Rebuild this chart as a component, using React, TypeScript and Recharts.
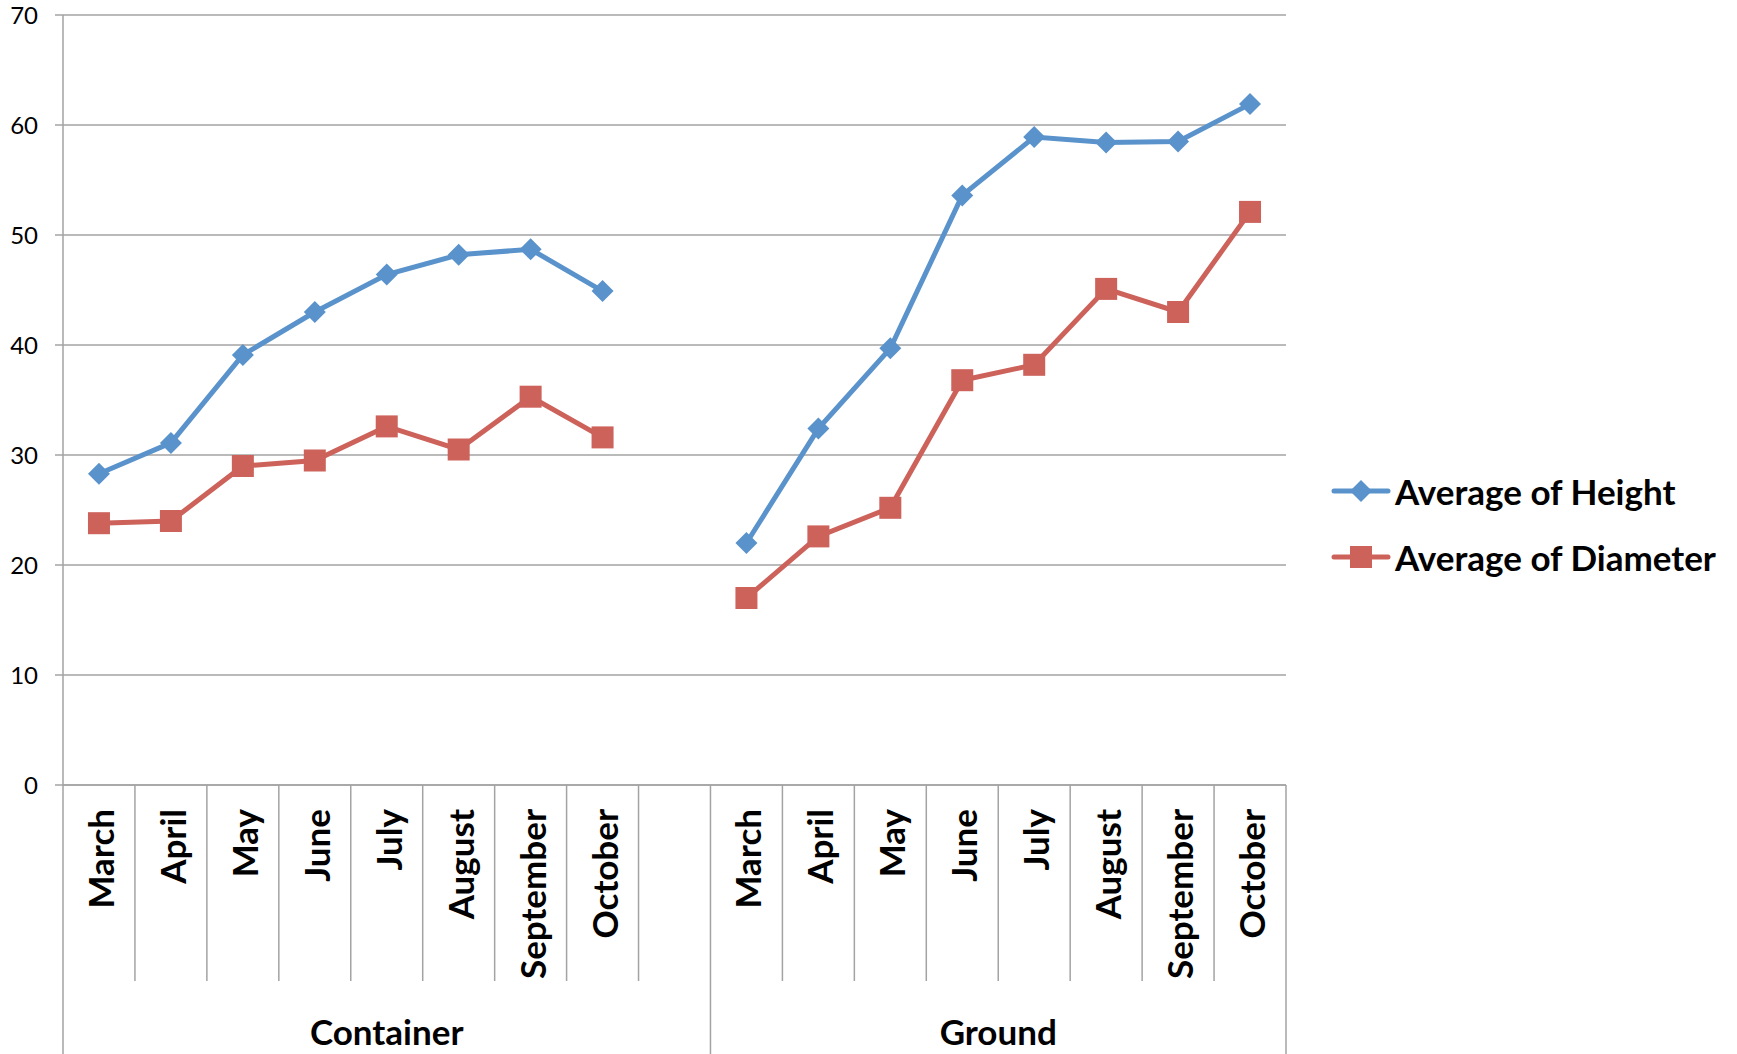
import React from "react";
import {
  LineChart, Line, XAxis, YAxis, CartesianGrid, Legend,
} from "recharts";

// category slots: Container (8 months + an empty slot), then Ground
const CATEGORIES = [
  "March", "April", "May", "June", "July", "August", "September", "October", "",
  "March", "April", "May", "June", "July", "August", "September", "October",
];

const GROUPS = [
  { name: "Container", start: 0, count: 9 },
  { name: "Ground", start: 9, count: 8 },
];

const HEIGHT_AVG = [
  28.3, 31.1, 39.1, 43.0, 46.4, 48.2, 48.7, 44.9, null,
  22.0, 32.4, 39.7, 53.6, 58.9, 58.4, 58.5, 61.9,
];

const DIAMETER_AVG = [
  23.8, 24.0, 29.0, 29.5, 32.6, 30.5, 35.3, 31.6, null,
  17.0, 22.6, 25.2, 36.8, 38.2, 45.1, 43.0, 52.1,
];

const Y_TICKS = [0, 10, 20, 30, 40, 50, 60, 70];

const BLUE = "#5A93CB";
const RED = "#CD625B";
const GRID = "#A3A3A3";
const FONT = "Lato, 'Open Sans', sans-serif";
const LABEL_SIZE = 35;

const CHART_W = 1737;
const CHART_H = 1054;
const Y_AXIS_W = 63;
const RIGHT_GAP = 451;
const X_AXIS_H = 269;
const SLOT = (CHART_W - Y_AXIS_W - RIGHT_GAP) / CATEGORIES.length;

const data = CATEGORIES.map((label, i) => ({
  idx: i,
  label,
  height: HEIGHT_AVG[i],
  diameter: DIAMETER_AVG[i],
}));

const SERIES = [
  { key: "height", name: "Average of Height", color: BLUE, marker: "diamond" },
  { key: "diameter", name: "Average of Diameter", color: RED, marker: "square" },
];

function Marker({ cx, cy, kind, color }: { cx: number; cy: number; kind: string; color: string }) {
  if (kind === "diamond") {
    const r = 11;
    return (
      <polygon
        points={`${cx},${cy - r} ${cx + r},${cy} ${cx},${cy + r} ${cx - r},${cy}`}
        fill={color}
      />
    );
  }
  const s = 22;
  return <rect x={cx - s / 2} y={cy - s / 2} width={s} height={s} fill={color} />;
}

const makeDot = (kind: string, color: string) => (props: any) => {
  const { cx, cy, index } = props;
  if (cx == null || cy == null || props.value == null) return <g key={`e-${index}`} />;
  return <Marker key={`m-${index}`} cx={cx} cy={cy} kind={kind} color={color} />;
};

// month label + slot dividers + group captions under the plot
function CategoryTick(props: any) {
  const { x, y, payload, index } = props;
  const i = payload.value as number;
  const label = CATEGORIES[i];
  const left = x - SLOT / 2;
  const group = GROUPS.find((g) => g.start === i);
  const last = i === CATEGORIES.length - 1;
  const bx = x + 15;
  const by = y + 24;
  return (
    <g key={`t-${index}`}>
      <line
        x1={left} x2={left} y1={y} y2={group ? y + X_AXIS_H : y + 196}
        stroke={GRID} strokeWidth={1.5}
      />
      {last && (
        <line
          x1={x + SLOT / 2} x2={x + SLOT / 2} y1={y} y2={y + X_AXIS_H}
          stroke={GRID} strokeWidth={1.5}
        />
      )}
      {label && (
        <text
          x={bx}
          y={by}
          transform={`rotate(-90, ${bx}, ${by})`}
          textAnchor="end"
          fontFamily={FONT}
          fontWeight={700}
          fontSize={LABEL_SIZE}
          fill="#000"
        >
          {label}
        </text>
      )}
      {group && (
        <text
          x={x + ((group.count - 1) / 2) * SLOT}
          y={y + 260}
          textAnchor="middle"
          fontFamily={FONT}
          fontWeight={700}
          fontSize={LABEL_SIZE}
          fill="#000"
        >
          {group.name}
        </text>
      )}
    </g>
  );
}

const renderLegend = () => (
  <div style={{ display: "flex", flexDirection: "column" }}>
    {SERIES.map((s) => (
      <div key={s.key} style={{ display: "flex", alignItems: "center", height: 66 }}>
        <svg width={65} height={30} style={{ display: "block" }}>
          <line x1={4} x2={58} y1={15} y2={15} stroke={s.color} strokeWidth={5} strokeLinecap="round" />
          <Marker cx={31} cy={15} kind={s.marker} color={s.color} />
        </svg>
        <span style={{ fontFamily: FONT, fontWeight: 700, fontSize: LABEL_SIZE, color: "#000", whiteSpace: "nowrap" }}>
          {s.name}
        </span>
      </div>
    ))}
  </div>
);

export default function App() {
  return (
    <div style={{ position: "absolute", left: 0, top: 0, background: "#fff" }}>
      <LineChart
        width={CHART_W}
        height={CHART_H}
        data={data}
        margin={{ top: 15, right: RIGHT_GAP, left: 0, bottom: 0 }}
      >
        <CartesianGrid vertical={false} stroke={GRID} strokeWidth={1.5} />
        <XAxis
          dataKey="idx"
          type="number"
          domain={[-0.5, CATEGORIES.length - 0.5]}
          ticks={CATEGORIES.map((_, i) => i)}
          interval={0}
          allowDataOverflow
          height={X_AXIS_H}
          tickSize={0}
          tickMargin={0}
          tickLine={false}
          axisLine={{ stroke: GRID, strokeWidth: 1.5 }}
          tick={<CategoryTick />}
        />
        <YAxis
          domain={[0, 70]}
          ticks={Y_TICKS}
          interval={0}
          width={Y_AXIS_W}
          tickSize={8}
          tickMargin={17}
          tickLine={{ stroke: GRID, strokeWidth: 1.5 }}
          axisLine={{ stroke: GRID, strokeWidth: 1.5 }}
          tick={{ fill: "#000", fontSize: 24, fontFamily: FONT }}
        />
        <Legend
          layout="vertical"
          align="center"
          verticalAlign="middle"
          content={renderLegend}
          wrapperStyle={{ left: 1330, top: 458, width: 420 }}
        />
        {SERIES.map((s) => (
          <Line
            key={s.key}
            dataKey={s.key}
            name={s.name}
            type="linear"
            stroke={s.color}
            strokeWidth={5}
            dot={makeDot(s.marker, s.color)}
            activeDot={false}
            connectNulls={false}
            isAnimationActive={false}
          />
        ))}
      </LineChart>
    </div>
  );
}
